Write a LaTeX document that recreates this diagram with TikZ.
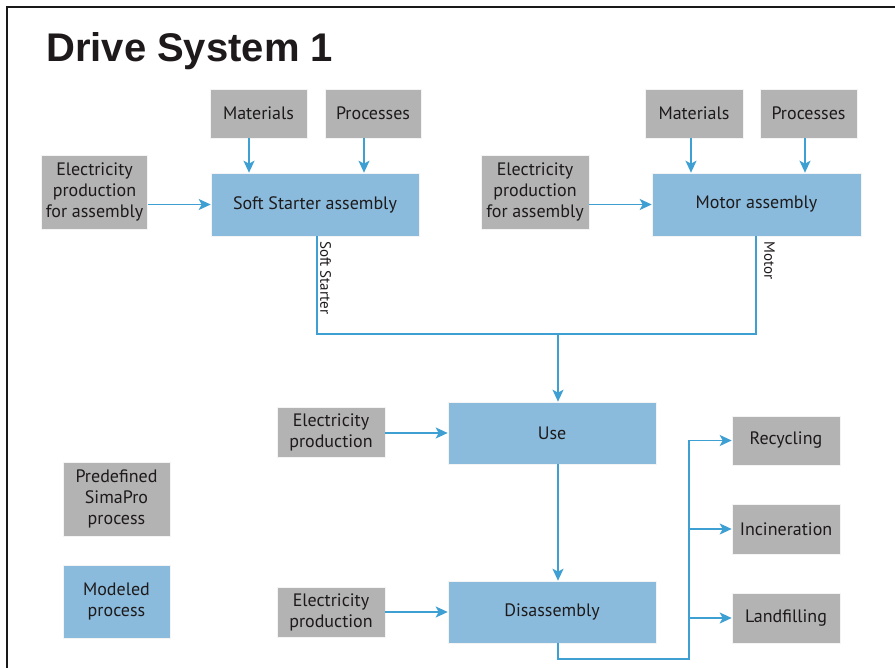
\documentclass[tikz,border=0pt]{standalone}
\usepackage{fontspec}
\setmainfont{PT Sans}
\newfontfamily\titlefont{Liberation Sans}
\usetikzlibrary{arrows.meta}
\definecolor{boxgray}{HTML}{B3B3B3}
\definecolor{boxblue}{HTML}{8ABBDC}
\definecolor{linkblue}{HTML}{3E9FD2}
\definecolor{txt}{HTML}{1E1A1B}
\tikzset{
  base/.style={inner sep=0pt, align=center, text=txt, font=\fontsize{18}{21}\selectfont, draw=white!85!boxgray, line width=0.6pt},
  graybox/.style={base, fill=boxgray},
  bluebox/.style={base, fill=boxblue},
  link/.style={draw=linkblue, line width=1.8pt},
  arr/.style={link, -{Stealth[length=12pt,width=11pt,inset=3pt]}},
  vlabel/.style={rotate=-90, inner sep=0pt, text=txt, font=\fontsize{15}{17}\selectfont, anchor=south west}
}
\begin{document}
\begin{tikzpicture}[x=1pt,y=-1pt]
\useasboundingbox (0,0) rectangle (895,668);
\fill[white] (0,0) rectangle (895,668);
% frame
\draw[line width=2.4pt, black!90] (7,668) -- (7,7) -- (895,7);
% title
\node[anchor=base west, inner sep=0pt, font=\titlefont\bfseries\fontsize{40}{44}\selectfont, text=txt] (title) at (46,62) {Drive System 1};

% top-left group
\node[graybox, minimum width=97pt, minimum height=49pt] (mat1) at (258.5,113.5) {Materials};
\node[graybox, minimum width=96pt, minimum height=49pt] (pro1) at (373,113.5) {Processes};
\node[graybox, minimum width=106pt, minimum height=74pt] (el1) at (94.5,192) {Electricity\\production\\for assembly};
\node[bluebox, minimum width=208pt, minimum height=63pt] (ss) at (315,204.5) {Soft Starter assembly};

% top-right group
\node[graybox, minimum width=98pt, minimum height=49pt] (mat2) at (694,113.5) {Materials};
\node[graybox, minimum width=97pt, minimum height=49pt] (pro2) at (808.5,113.5) {Processes};
\node[graybox, minimum width=108pt, minimum height=74pt] (el2) at (535,192) {Electricity\\production\\for assembly};
\node[bluebox, minimum width=209pt, minimum height=63pt] (mot) at (756.5,204.5) {Motor assembly};

% middle
\node[bluebox, minimum width=208pt, minimum height=62pt] (use) at (552,433) {Use};
\node[graybox, minimum width=108pt, minimum height=50pt] (el3) at (331,432) {Electricity\\production};
\node[bluebox, minimum width=208pt, minimum height=62pt] (dis) at (552,612) {Disassembly};
\node[graybox, minimum width=108pt, minimum height=50pt] (el4) at (331,612) {Electricity\\production};

% end of life
\node[graybox, minimum width=108pt, minimum height=49pt] (rec) at (786,440.5) {Recycling};
\node[graybox, minimum width=108pt, minimum height=50pt] (inc) at (786,529) {Incineration};
\node[graybox, minimum width=108pt, minimum height=50pt] (lan) at (786,618) {Landfilling};

% legend
\node[graybox, minimum width=107pt, minimum height=74pt] (leg1) at (116.5,499) {Predefined\\SimaPro\\process};
\node[bluebox, minimum width=107pt, minimum height=73pt] (leg2) at (116.5,601.5) {Modeled\\process};

% coordinates
\coordinate (js) at (317,334);
\coordinate (jmo) at (756,334);
\coordinate (jm) at (558,334);
\coordinate (jb) at (558,659);
\coordinate (jr) at (689,659);

% arrows into assemblies
\draw[arr] ([xshift=-9.5pt]mat1.south) -- ([xshift=-9.5pt]mat1.south |- ss.north);
\draw[arr] ([xshift=-9pt]pro1.south) -- ([xshift=-9pt]pro1.south |- ss.north);
\draw[arr] ([xshift=-3pt]mat2.south) -- ([xshift=-3pt]mat2.south |- mot.north);
\draw[arr] ([xshift=-3.5pt]pro2.south) -- ([xshift=-3.5pt]pro2.south |- mot.north);
\draw[arr] (el1.east |- ss.west) -- (ss.west);
\draw[arr] (el2.east |- mot.west) -- (mot.west);

% assemblies to use
\draw[link] (ss.south -| js) -- (js) -- (jmo) -- (mot.south -| jmo);
\draw[arr] (jm) -- (jm |- use.north);
\node[vlabel] (lss) at (320,241) {Soft Starter};
\node[vlabel] (lmo) at (764,241) {Motor};

% use, disassembly
\draw[arr] (el3.east |- use.west) -- (use.west);
\draw[arr] (jm |- use.south) -- (jm |- dis.north);
\draw[arr] (el4.east |- dis.west) -- (dis.west);

% end of life
\draw[link] (jm |- dis.south) -- (jb) -- (jr) -- (jr |- rec.west);
\draw[arr] (jr |- rec.west) -- (rec.west);
\draw[arr] (jr |- inc.west) -- (inc.west);
\draw[arr] (jr |- lan.west) -- (lan.west);
\end{tikzpicture}
\end{document}
